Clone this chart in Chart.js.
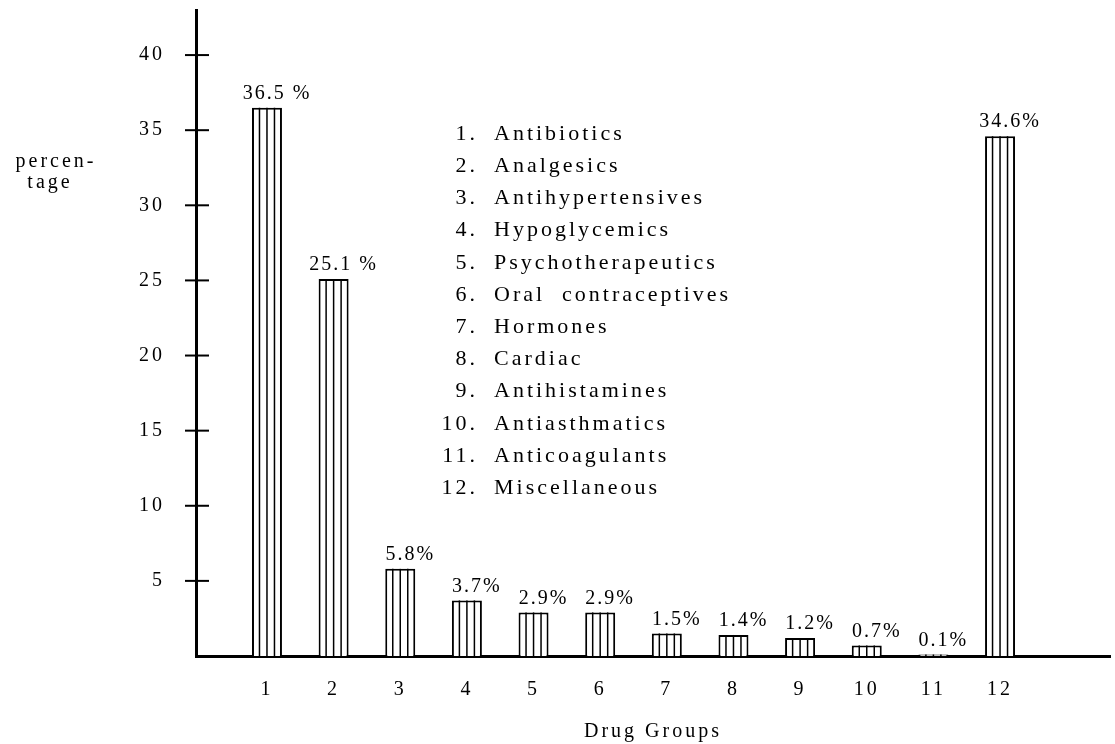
<!DOCTYPE html>
<html lang="en">
<head>
    <meta charset="UTF-8">
    <script src="https://cdn.jsdelivr.net/npm/chart.js"></script>
    <title>Drug Groups</title>
    <style>
        body { margin: 0; background: #fff; }
    </style>
</head>
<body>
    <canvas id="myChart" width="1115" height="744"></canvas>

<script>
    // data
    const categories = ['1', '2', '3', '4', '5', '6', '7', '8', '9', '10', '11', '12'];
    const drugNames = ['Antibiotics', 'Analgesics', 'Antihypertensives', 'Hypoglycemics',
        'Psychotherapeutics', 'Oral  contraceptives', 'Hormones', 'Cardiac',
        'Antihistamines', 'Antiasthmatics', 'Anticoagulants', 'Miscellaneous'];
    const percentages = [36.5, 25.1, 5.8, 3.7, 2.9, 2.9, 1.5, 1.4, 1.2, 0.7, 0.1, 34.6];
    const valueLabels = ['36.5 %', '25.1 %', '5.8%', '3.7%', '2.9%', '2.9%', '1.5%', '1.4%', '1.2%', '0.7%', '0.1%', '34.6%'];
    const yTicks = [5, 10, 15, 20, 25, 30, 35, 40];

    const FONT = 'Liberation Serif';

    // chart.js has no letter spacing option, set it on the context
    const spacing = {
        id: 'spacing',
        beforeLayout(chart) { chart.ctx.letterSpacing = '3px'; },
        beforeDraw(chart) { chart.ctx.letterSpacing = '3px'; }
    };

    // tick marks that cross the y axis
    const crossTicks = {
        id: 'crossTicks',
        afterDraw(chart) {
            const ctx = chart.ctx, y = chart.scales.y, left = chart.chartArea.left;
            ctx.save();
            ctx.strokeStyle = '#000';
            ctx.lineWidth = 2;
            yTicks.forEach(v => {
                const py = y.getPixelForValue(v);
                ctx.beginPath();
                ctx.moveTo(left - 11, py);
                ctx.lineTo(left + 13, py);
                ctx.stroke();
            });
            ctx.restore();
        }
    };

    // vertical hatching + value labels
    const hatch = {
        id: 'hatch',
        afterDatasetsDraw(chart) {
            const ctx = chart.ctx;
            const meta = chart.getDatasetMeta(0);
            ctx.save();
            ctx.strokeStyle = '#000';
            ctx.lineWidth = 1.5;
            meta.data.forEach((bar, i) => {
                const w = bar.width, x0 = bar.x - w / 2;
                for (let k = 1; k < 4; k++) {
                    const lx = x0 + w * k / 4;
                    ctx.beginPath();
                    ctx.moveTo(lx, bar.y);
                    ctx.lineTo(lx, bar.base);
                    ctx.stroke();
                }
                ctx.fillStyle = '#000';
                ctx.font = '20px "' + FONT + '"';
                ctx.letterSpacing = '2px';
                ctx.textAlign = 'center';
                ctx.textBaseline = 'bottom';
                ctx.fillText(valueLabels[i], bar.x + 10, bar.y - 4);
            });
            ctx.restore();
        }
    };

    // numbered list of drug groups + y title
    const notes = {
        id: 'notes',
        afterDraw(chart) {
            const ctx = chart.ctx;
            ctx.save();
            ctx.fillStyle = '#000';
            ctx.font = '22px "' + FONT + '"';
            ctx.letterSpacing = '3px';
            ctx.textBaseline = 'middle';
            drugNames.forEach((name, i) => {
                const ly = 134 + i * 32.2;
                ctx.textAlign = 'right';
                ctx.fillText(categories[i] + '.', 478, ly);
                ctx.textAlign = 'left';
                ctx.fillText(name, 494, ly);
            });
            ctx.font = '20px "' + FONT + '"';
            ctx.letterSpacing = '3px';
            ctx.textAlign = 'center';
            ctx.fillText('percen-', 56, 162);
            ctx.fillText('tage', 50, 183);
            ctx.restore();
        }
    };

    const ctx = document.getElementById('myChart').getContext('2d');
    const myChart = new Chart(ctx, {
        type: 'bar',
        data: {
            datasets: [{
                data: percentages.map((v, i) => ({ x: i + 1, y: v })),
                backgroundColor: '#fff',
                borderColor: '#000',
                borderWidth: 2,
                barPercentage: 0.45,
                categoryPercentage: 1
            }]
        },
        options: {
            responsive: false,
            animation: false,
            layout: { padding: { left: 108, right: 5, top: 10, bottom: 0 } },
            plugins: {
                legend: { display: false },
                tooltip: { enabled: false }
            },
            scales: {
                x: {
                    type: 'linear',
                    offset: false,
                    min: -0.065,
                    max: 13.65,
                    afterBuildTicks: (scale) => {
                        scale.ticks = categories.map((c, i) => ({ value: i + 1 }));
                    },
                    afterFit: (scale) => {
                        scale.height -= 4;
                    },
                    ticks: {
                        color: '#000',
                        font: { family: FONT, size: 20 },
                        padding: 22,
                        maxRotation: 0,
                        autoSkip: false,
                        callback: (v) => categories[v - 1]
                    },
                    grid: { display: false, drawTicks: false },
                    border: { color: '#000', width: 3 },
                    title: {
                        display: true,
                        text: 'Drug Groups',
                        color: '#000',
                        font: { family: FONT, size: 20 },
                        padding: { top: 0, bottom: 0 }
                    }
                },
                y: {
                    min: 0,
                    max: 43,
                    afterBuildTicks: (scale) => {
                        scale.ticks = yTicks.map(v => ({ value: v }));
                    },
                    // the axis line runs above the top label, so no label overflow
                    afterFit: (scale) => {
                        scale.paddingTop = 0;
                        scale.paddingBottom = 0;
                    },
                    ticks: {
                        color: '#000',
                        font: { family: FONT, size: 20 },
                        padding: 31
                    },
                    grid: { display: false, drawTicks: false },
                    border: { color: '#000', width: 3 }
                }
            }
        },
        plugins: [spacing, crossTicks, hatch, notes]
    });
</script>
</body>
</html>
